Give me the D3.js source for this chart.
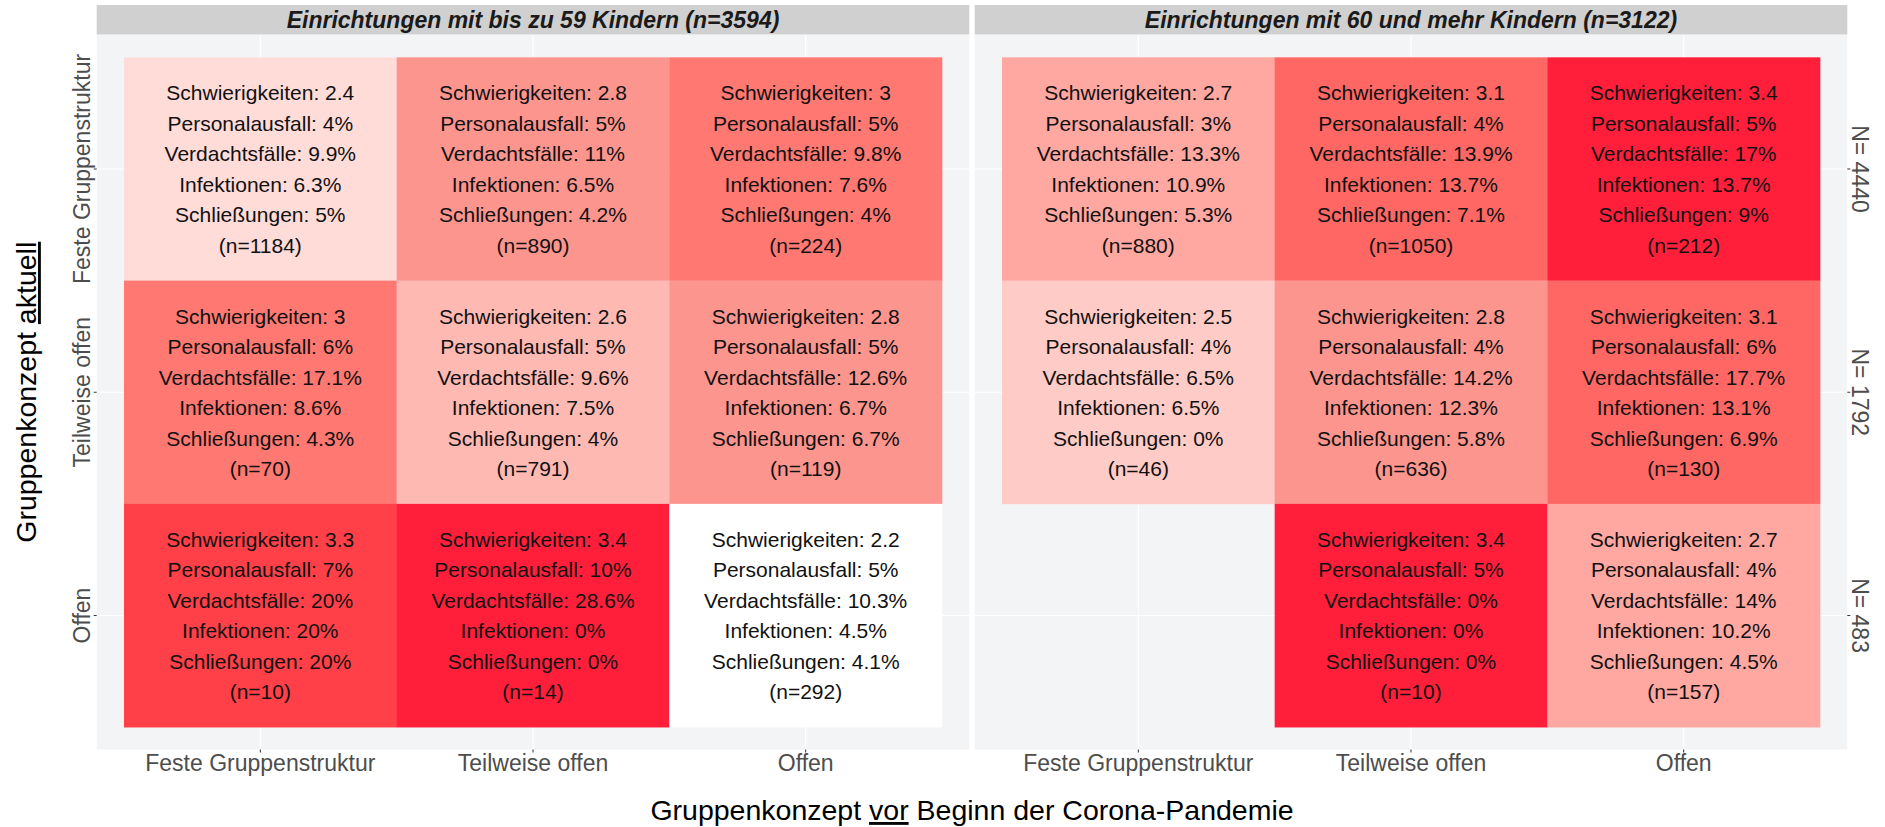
<!DOCTYPE html>
<html>
<head>
<meta charset="utf-8">
<script src="https://cdn.jsdelivr.net/npm/d3@7"></script>
<style>
  html, body { margin: 0; padding: 0; background: #ffffff; }
  svg { display: block; font-family: "Liberation Sans", Arial, Helvetica, sans-serif; }
</style>
</head>
<body>
<svg id="chart" width="1885" height="827"></svg>
<script>
// ---------------- DATA ----------------
const panels = ["Einrichtungen mit bis zu 59 Kindern (n=3594)", "Einrichtungen mit 60 und mehr Kindern (n=3122)"];
const concepts = ["Feste Gruppenstruktur", "Teilweise offen", "Offen"];
const rowTotals = ["N= 4440", "N= 1792", "N= 483"];

const cellPanel   = [0, 0, 0, 0, 0, 0, 0, 0, 0, 1, 1, 1, 1, 1, 1, 1, 1];
const cellVor     = ["Feste Gruppenstruktur", "Teilweise offen", "Offen",
                     "Feste Gruppenstruktur", "Teilweise offen", "Offen",
                     "Feste Gruppenstruktur", "Teilweise offen", "Offen",
                     "Feste Gruppenstruktur", "Teilweise offen", "Offen",
                     "Feste Gruppenstruktur", "Teilweise offen", "Offen",
                     "Teilweise offen", "Offen"];
const cellAktuell = ["Feste Gruppenstruktur", "Feste Gruppenstruktur", "Feste Gruppenstruktur",
                     "Teilweise offen", "Teilweise offen", "Teilweise offen",
                     "Offen", "Offen", "Offen",
                     "Feste Gruppenstruktur", "Feste Gruppenstruktur", "Feste Gruppenstruktur",
                     "Teilweise offen", "Teilweise offen", "Teilweise offen",
                     "Offen", "Offen"];
const schwierigkeiten = [2.4, 2.8, 3, 3, 2.6, 2.8, 3.3, 3.4, 2.2, 2.7, 3.1, 3.4, 2.5, 2.8, 3.1, 3.4, 2.7];
const personalausfall = [4, 5, 5, 6, 5, 5, 7, 10, 5, 3, 4, 5, 4, 4, 6, 5, 4];
const verdachtsfaelle = [9.9, 11, 9.8, 17.1, 9.6, 12.6, 20, 28.6, 10.3, 13.3, 13.9, 17, 6.5, 14.2, 17.7, 0, 14];
const infektionen     = [6.3, 6.5, 7.6, 8.6, 7.5, 6.7, 20, 0, 4.5, 10.9, 13.7, 13.7, 6.5, 12.3, 13.1, 0, 10.2];
const schliessungen   = [5, 4.2, 4, 4.3, 4, 6.7, 20, 0, 4.1, 5.3, 7.1, 9, 0, 5.8, 6.9, 0, 4.5];
const nCount          = [1184, 890, 224, 70, 791, 119, 10, 14, 292, 880, 1050, 212, 46, 636, 130, 10, 157];

// ---------------- LAYOUT ----------------
const svg = d3.select("#chart");
const plotLeft = 96.7, plotRight = 1847.3, panelGap = 5.4;
const panelTop = 35, panelBottom = 749.5;
const stripTop = 5, stripBottom = 34.5;
const panelW = (plotRight - plotLeft - panelGap) / 2;

const sExt = d3.extent(schwierigkeiten);
const fill = d3.scaleLinear()
  .domain([sExt[0], (sExt[0] + sExt[1]) / 2, sExt[1]])
  .range(["#ffffff", "#fd958f", "#ff1f3b"])
  .interpolate(d3.interpolateLab);

const cells = cellPanel.map((p, i) => ({
  panel: p, vor: cellVor[i], aktuell: cellAktuell[i],
  lines: [
    "Schwierigkeiten: " + schwierigkeiten[i],
    "Personalausfall: " + personalausfall[i] + "%",
    "Verdachtsfälle: " + verdachtsfaelle[i] + "%",
    "Infektionen: " + infektionen[i] + "%",
    "Schließungen: " + schliessungen[i] + "%",
    "(n=" + nCount[i] + ")"
  ],
  s: schwierigkeiten[i]
}));

const y = d3.scaleBand().domain(concepts).range([panelTop, panelBottom]).paddingInner(0).paddingOuter(0.1);

panels.forEach((pname, pi) => {
  const px0 = plotLeft + pi * (panelW + panelGap);
  const px1 = px0 + panelW;
  const x = d3.scaleBand().domain(concepts).range([px0, px1]).paddingInner(0).paddingOuter(0.1);
  const g = svg.append("g");

  // panel background
  g.append("rect").attr("x", px0).attr("y", panelTop).attr("width", panelW).attr("height", panelBottom - panelTop)
    .attr("fill", "#f3f4f6");
  // grid
  concepts.forEach(c => {
    g.append("line").attr("x1", x(c) + x.bandwidth() / 2).attr("x2", x(c) + x.bandwidth() / 2)
      .attr("y1", panelTop).attr("y2", panelBottom).attr("stroke", "#ffffff").attr("stroke-width", 1.1);
    g.append("line").attr("y1", y(c) + y.bandwidth() / 2).attr("y2", y(c) + y.bandwidth() / 2)
      .attr("x1", px0).attr("x2", px1).attr("stroke", "#ffffff").attr("stroke-width", 1.1);
  });
  // strip
  g.append("rect").attr("x", px0).attr("y", stripTop).attr("width", panelW).attr("height", stripBottom - stripTop)
    .attr("fill", "#d0d0d0");
  g.append("text").attr("x", (px0 + px1) / 2).attr("y", 28.3)
    .attr("text-anchor", "middle").attr("font-size", 23).attr("font-weight", "bold").attr("font-style", "italic")
    .attr("fill", "#1a1a1a").text(pname);

  // tiles
  const pc = cells.filter(d => d.panel === pi);
  g.selectAll("rect.tile").data(pc).enter().append("rect").attr("class", "tile")
    .attr("x", d => x(d.vor)).attr("y", d => y(d.aktuell))
    .attr("width", x.bandwidth() + 0.3).attr("height", y.bandwidth() + 0.3)
    .attr("fill", d => fill(d.s));

  // labels
  const lh = 30.5;
  const tg = g.selectAll("g.lab").data(pc).enter().append("g").attr("class", "lab");
  tg.each(function(d) {
    const cx = x(d.vor) + x.bandwidth() / 2;
    const cy = y(d.aktuell) + y.bandwidth() / 2;
    d3.select(this).selectAll("text").data(d.lines).enter().append("text")
      .attr("x", cx).attr("y", (t, k) => cy + (k - 2.5) * lh + 7.5)
      .attr("text-anchor", "middle").attr("font-size", 21).attr("fill", "#111111")
      .text(t => t);
  });

  // x axis
  const xa = g.append("g").attr("transform", `translate(0,${panelBottom})`)
    .call(d3.axisBottom(x).tickSize(3).tickPadding(2));
  xa.select(".domain").remove();
  xa.selectAll(".tick line").attr("stroke", "#333333");
  xa.selectAll(".tick text").attr("font-size", 23).attr("fill", "#4d4d4d")
    .attr("font-family", "Liberation Sans, Arial, sans-serif");

  if (pi === 0) {
    const ya = g.append("g").attr("transform", `translate(${px0},0)`)
      .call(d3.axisLeft(y).tickSize(3).tickPadding(0));
    ya.select(".domain").remove();
    ya.selectAll(".tick line").attr("stroke", "#333333");
    ya.selectAll(".tick text").attr("transform", "rotate(-90)").attr("x", 0).attr("y", -6.7).attr("dy", 0)
      .attr("text-anchor", "middle").attr("font-size", 23).attr("fill", "#4d4d4d")
      .attr("font-family", "Liberation Sans, Arial, sans-serif");
  } else {
    const yr = d3.scaleBand().domain(rowTotals).range([panelTop, panelBottom]).paddingInner(0).paddingOuter(0.1);
    const ra = g.append("g").attr("transform", `translate(${px1},0)`)
      .call(d3.axisRight(yr).tickSize(3).tickPadding(0));
    ra.select(".domain").remove();
    ra.selectAll(".tick line").attr("stroke", "#333333");
    ra.selectAll(".tick text").attr("transform", "rotate(90)").attr("x", 0).attr("y", -5).attr("dy", 0)
      .attr("text-anchor", "middle").attr("font-size", 23).attr("fill", "#4d4d4d")
      .attr("font-family", "Liberation Sans, Arial, sans-serif");
  }
});

// axis titles
const xt = svg.append("text").attr("x", (plotLeft + plotRight) / 2).attr("y", 820)
  .attr("text-anchor", "middle").attr("font-size", 28.5).attr("fill", "#000");
xt.append("tspan").text("Gruppenkonzept ");
xt.append("tspan").style("text-decoration", "underline").text("vor");
xt.append("tspan").text(" Beginn der Corona-Pandemie");

const yt = svg.append("text").attr("transform", `translate(36,${(panelTop + panelBottom) / 2}) rotate(-90)`)
  .attr("text-anchor", "middle").attr("font-size", 28.5).attr("fill", "#000");
yt.append("tspan").text("Gruppenkonzept ");
yt.append("tspan").style("text-decoration", "underline").text("aktuell");
</script>
</body>
</html>
